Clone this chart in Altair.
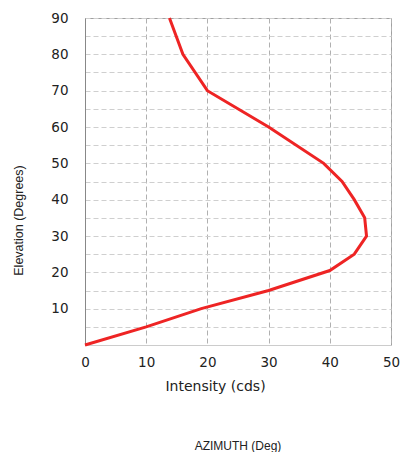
import altair as alt
import pandas as pd

intensity = [0, 10, 19, 30, 40, 44, 46, 45.7, 44, 42, 39, 30, 20, 16, 13.8]
elevation = [0, 5, 10, 15, 20.5, 25, 30, 35, 40, 45, 50, 60, 70, 80, 90]
x_ticks = [0, 10, 20, 30, 40, 50]
y_grid = list(range(0, 95, 5))

df = pd.DataFrame({"intensity": intensity, "elevation": elevation, "order": list(range(len(intensity)))})

line = alt.Chart(df).mark_line(color="#ee2424", strokeWidth=3).encode(
    x=alt.X("intensity:Q", scale=alt.Scale(domain=[0, 50], nice=False),
            axis=alt.Axis(values=x_ticks, title="Intensity (cds)", grid=True,
                          gridDash=[5, 3], gridColor="#b0b0b0", ticks=False,
                          labelFont="DejaVu Sans", labelFontSize=13.5, labelColor="#222",
                          labelPadding=10, titleFont="DejaVu Sans", titleFontSize=14,
                          titleFontWeight="normal", titleColor="#222", titlePadding=11,
                          titleX=130, titleAlign="center",
                          domainColor="#cccccc", labelFlush=False)),
    y=alt.Y("elevation:Q", scale=alt.Scale(domain=[0, 90], nice=False),
            axis=alt.Axis(values=y_grid, title="Elevation (Degrees)", grid=True,
                          gridDash=[5, 3], gridColor="#cfcfcf", ticks=False,
                          labelExpr="datum.value % 10 == 0 && datum.value > 0 ? datum.label : ''",
                          labelFont="DejaVu Sans", labelFontSize=13.5, labelColor="#222",
                          labelPadding=17, titleFont="Liberation Sans", titleFontSize=12.5,
                          titleFontWeight="normal", titleColor="#222",
                          titleX=-60, titleY=202,
                          domainColor="#888888", labelFlush=False)),
    order="order:O",
)

chart = line.properties(
    width=306, height=327,
    title=alt.TitleParams("AZIMUTH (Deg)", orient="bottom", font="Liberation Sans",
                          fontSize=12, fontWeight="normal", color="#222", offset=47),
    autosize=alt.AutoSizeParams(type="none"),
    padding={"left": 77, "top": 10, "right": 9, "bottom": 107},
).configure_view(stroke="#a0a0a0")

chart.save("out.html", embed_options={"renderer": "svg", "actions": False})
